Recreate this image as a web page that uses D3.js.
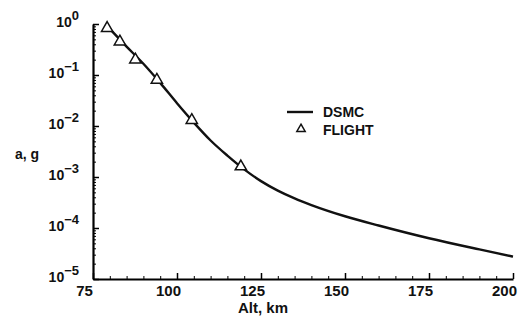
<!DOCTYPE html>
<html>
<head>
<meta charset="utf-8">
<script src="https://cdn.jsdelivr.net/npm/d3@7"></script>
<style>
  body { margin: 0; background: #fff; }
  svg text { font-family: "Liberation Sans", Arial, Helvetica, sans-serif; font-weight: bold; fill: #111; }
</style>
</head>
<body>
<svg id="chart" width="519" height="320"></svg>
<script>
// DSMC curve (altitude km, acceleration g)
var dsmcAlt = [80, 85, 90, 95, 100, 105, 110, 115, 120, 125, 130, 135, 140, 150, 160, 175, 190, 200];
var dsmcAcc = [0.8, 0.36, 0.166, 0.07, 0.028, 0.0117, 0.0052, 0.00263, 0.00141, 0.00083, 0.00054, 0.00038,
               0.000282, 0.00017, 0.000112, 0.000063, 0.000038, 0.0000275];

// flight data
var flightAlt = [79.2, 83, 87.6, 94, 104.4, 119];
var flightAcc = [0.83, 0.45, 0.2, 0.08, 0.013, 0.0016];

var xTicks = [75, 100, 125, 150, 175, 200];
var yExp = [0, -1, -2, -3, -4, -5];

var svg = d3.select('#chart');
var x = d3.scaleLinear().domain([75, 200]).range([93, 513]);
var y = d3.scaleLog().domain([1e-5, 1]).range([279, 24]);

// minor x ticks every 5 km
var xMinor = d3.range(75, 201, 5).filter(function(v) { return v % 25 !== 0; });
svg.append('g')
    .attr('transform', 'translate(0,279)')
    .call(d3.axisBottom(x).tickValues(xMinor).tickSize(-3).tickFormat(''))
    .call(function(g) { g.select('.domain').remove(); });

var xAxis = svg.append('g')
    .attr('transform', 'translate(0,279)')
    .call(d3.axisBottom(x).tickValues(xTicks).tickSizeInner(-6).tickSizeOuter(0).tickPadding(6));
xAxis.select('.domain').attr('stroke-width', 2.2);
xAxis.selectAll('.tick line').attr('stroke-width', 1.5);
xAxis.selectAll('.tick text')
    .attr('dx', -9)
    .attr('font-size', 15)
    .attr('font-family', '"Liberation Sans", Arial, sans-serif')
    .attr('font-weight', 'bold')
    .attr('fill', '#111');

// minor y ticks 2..9 per decade
var yMinor = [];
for (var e = -5; e < 0; e++) {
    for (var m = 2; m <= 9; m++) yMinor.push(m * Math.pow(10, e));
}
svg.append('g')
    .attr('transform', 'translate(93,0)')
    .call(d3.axisLeft(y).tickValues(yMinor).tickSize(-3).tickFormat(''))
    .call(function(g) { g.select('.domain').remove(); });

var yAxis = svg.append('g')
    .attr('transform', 'translate(93,0)')
    .call(d3.axisLeft(y).tickValues(yExp.map(function(p) { return Math.pow(10, p); }))
        .tickSizeInner(-6).tickSizeOuter(0).tickFormat(''));
yAxis.select('.domain').attr('stroke-width', 2.2);
yAxis.selectAll('.tick line').attr('stroke-width', 1.5);

// y tick labels with exponents
var yLab = svg.append('g').selectAll('text')
    .data(yExp)
  .enter().append('text')
    .attr('x', 79)
    .attr('y', function(p) { return y(Math.pow(10, p)) + 3; })
    .attr('text-anchor', 'end')
    .attr('font-size', 14);
yLab.append('tspan').text('10');
yLab.append('tspan')
    .attr('dy', -7)
    .attr('font-size', 13)
    .text(function(p) { return p === 0 ? '0' : '\u2212' + (-p); });

// axis titles
svg.append('text')
    .attr('x', 15).attr('y', 159)
    .attr('font-size', 14)
    .text('a, g');
svg.append('text')
    .attr('x', 263).attr('y', 313)
    .attr('text-anchor', 'middle')
    .attr('font-size', 15)
    .text('Alt, km');

// DSMC curve
var line = d3.line()
    .x(function(d) { return x(d[0]); })
    .y(function(d) { return y(d[1]); })
    .curve(d3.curveMonotoneX);
svg.append('path')
    .datum(d3.zip(dsmcAlt, dsmcAcc))
    .attr('d', line)
    .attr('fill', 'none')
    .attr('stroke', '#111')
    .attr('stroke-width', 2.4);

// flight triangles
var tri = d3.symbol().type(d3.symbolTriangle).size(55);
svg.append('g').selectAll('path')
    .data(d3.zip(flightAlt, flightAcc))
  .enter().append('path')
    .attr('d', tri)
    .attr('transform', function(d) { return 'translate(' + x(d[0]) + ',' + y(d[1]) + ')'; })
    .attr('fill', '#fff')
    .attr('stroke', '#111')
    .attr('stroke-width', 1.5);

// legend
var leg = svg.append('g');
leg.append('line')
    .attr('x1', 287).attr('x2', 313)
    .attr('y1', 112).attr('y2', 112)
    .attr('stroke', '#111').attr('stroke-width', 2.4);
leg.append('text').attr('x', 323).attr('y', 117).attr('font-size', 14).text('DSMC');
leg.append('path')
    .attr('d', d3.symbol().type(d3.symbolTriangle).size(30))
    .attr('transform', 'translate(301,129)')
    .attr('fill', '#fff').attr('stroke', '#111').attr('stroke-width', 1.5);
leg.append('text').attr('x', 323).attr('y', 135).attr('font-size', 14).text('FLIGHT');
</script>
</body>
</html>
